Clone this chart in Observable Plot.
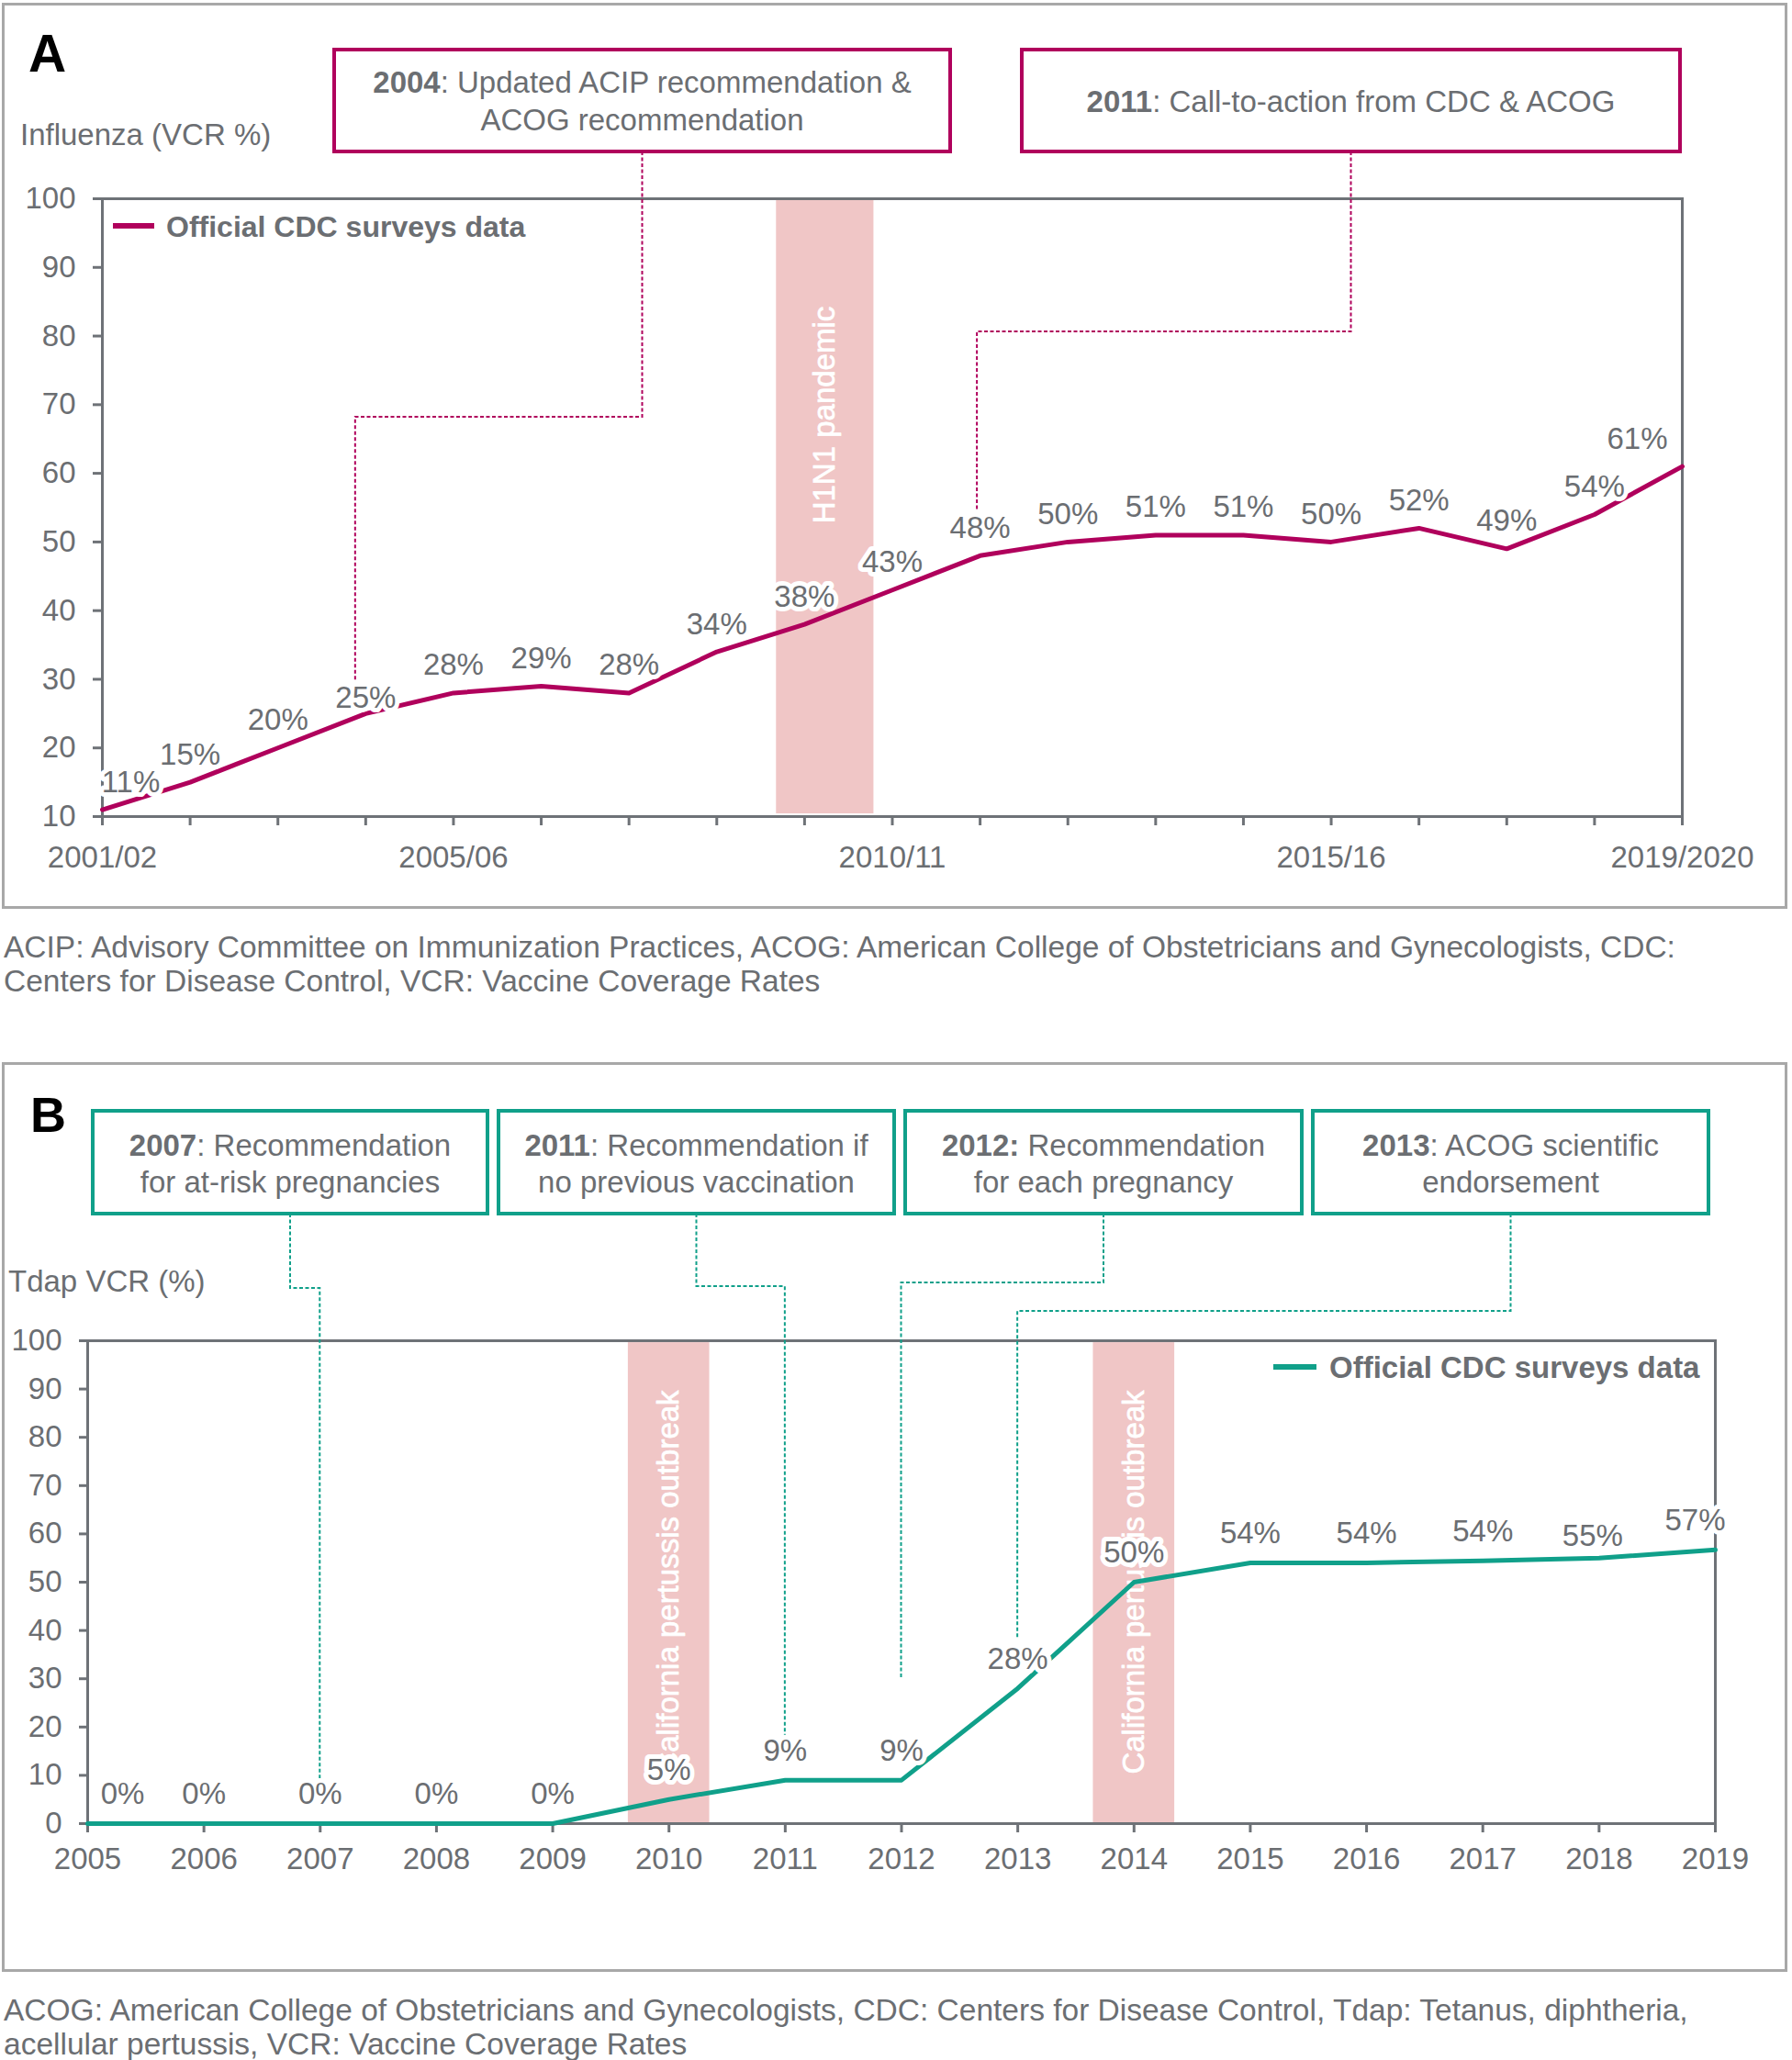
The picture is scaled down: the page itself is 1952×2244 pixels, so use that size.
<!DOCTYPE html>
<html>
<head>
<meta charset="utf-8">
<script src="https://cdn.jsdelivr.net/npm/d3@7"></script>
<script src="https://cdn.jsdelivr.net/npm/@observablehq/plot@0.6"></script>
<style>
  body { margin: 0; background: #fff; }
  #page { position: relative; width: 1952px; height: 2244px; background: #fff;
          font-family: "Liberation Sans", Arial, Helvetica, sans-serif; }
  #page svg { position: absolute; left: 0; }
  .cap { position: absolute; left: 4px; font-size: 33.5px; line-height: 37px; color: #6b6e72; white-space: nowrap; }
</style>
</head>
<body>
<div id="page"></div>
<script>
// ---------------- DATA ----------------
const fluSeasons = ["2001/02","2002/03","2003/04","2004/05","2005/06","2006/07","2007/08","2008/09","2009/10",
  "2010/11","2011/12","2012/13","2013/14","2014/15","2015/16","2016/17","2017/18","2018/19","2019/2020"];
const fluVCR = [11, 15, 20, 25, 28, 29, 28, 34, 38, 43, 48, 50, 51, 51, 50, 52, 49, 54, 61];
const fluTickLabels = ["2001/02", "2005/06", "2010/11", "2015/16", "2019/2020"];
const fluYTicks = [10, 20, 30, 40, 50, 60, 70, 80, 90, 100];
// H1N1 pandemic period, in season-index units
const h1n1Period = {start: 7.68, end: 8.79, label: "H1N1 pandemic"};

const tdapYears = [2005, 2006, 2007, 2008, 2009, 2010, 2011, 2012, 2013, 2014, 2015, 2016, 2017, 2018, 2019];
const tdapVCR = [0, 0, 0, 0, 0, 5, 9, 9, 28, 50, 54, 54, 54.4, 55, 56.7];
const tdapYTicks = [0, 10, 20, 30, 40, 50, 60, 70, 80, 90, 100];
// California pertussis outbreaks (in years)
const outbreaks = [
  {start: 2009.65, end: 2010.35, label: "California pertussis outbreak"},
  {start: 2013.65, end: 2014.35, label: "California pertussis outbreak"}
];

const fluNotes = [
  {bold: "2004", lines: [": Updated ACIP recommendation &", "ACOG recommendation"], target: "2004/05"},
  {bold: "2011", lines: [": Call-to-action from CDC & ACOG"], target: "2011/12"}
];
const tdapNotes = [
  {bold: "2007", lines: [": Recommendation", "for at-risk pregnancies"], target: 2007},
  {bold: "2011", lines: [": Recommendation if", "no previous vaccination"], target: 2011},
  {bold: "2012:", lines: [" Recommendation", "for each pregnancy"], target: 2012},
  {bold: "2013", lines: [": ACOG scientific", "endorsement"], target: 2013}
];

const legendText = "Official CDC surveys data";
const captionA = ["ACIP: Advisory Committee on Immunization Practices, ACOG: American College of Obstetricians and Gynecologists, CDC:",
  "Centers for Disease Control, VCR: Vaccine Coverage Rates"];
const captionB = ["ACOG: American College of Obstetricians and Gynecologists, CDC: Centers for Disease Control, Tdap: Tetanus, diphtheria,",
  "acellular pertussis, VCR: Vaccine Coverage Rates"];

// ---------------- STYLE ----------------
const FONT = '"Liberation Sans", Arial, Helvetica, sans-serif';
const TEXT = "#6b6e72", AXIS = "#6e7277", FRAME = "#a8a8a8", PINK = "#f0c6c6";
const MAGENTA = "#b0005c", TEAL = "#10a08a";

const page = document.getElementById("page");

function pctLabels(data, xKey, opts) {
  const n = data.length;
  const base = {x: xKey, y: "v", text: d => Math.round(d.v) + "%", fill: TEXT,
    stroke: "white", strokeWidth: 10, strokeLinejoin: "round", paintOrder: "stroke"};
  return [
    Plot.text(data, {...base, filter: (d, i) => i === 0, dx: opts.firstDx, dy: opts.dy}),
    Plot.text(data, {...base, filter: (d, i) => i > 0 && i < n - 1 && !(opts.special || {})[i], dy: opts.dy}),
    ...Object.entries(opts.special || {}).map(([k, s]) =>
      Plot.text(data, {...base, filter: (d, i) => i === +k, dx: s.dx || 0, dy: s.dy})),
    Plot.text(data, {...base, filter: (d, i) => i === n - 1, dx: opts.lastDx, dy: opts.dy})
  ];
}

function decorate(plot, cfg) {
  const svg = d3.select(plot);
  const x = plot.scale("x"), y = plot.scale("y");
  const g = svg.append("g").attr("text-anchor", "start").attr("font-family", FONT);
  // outer panel frame
  g.append("rect").attr("x", cfg.frame[0]).attr("y", cfg.frame[1])
    .attr("width", cfg.frame[2]).attr("height", cfg.frame[3])
    .attr("fill", "none").attr("stroke", FRAME).attr("stroke-width", 3);
  // panel letter
  g.append("text").attr("x", cfg.letterPos[0]).attr("y", cfg.letterPos[1])
    .attr("font-weight", "bold").attr("font-size", cfg.letterSize)
    .attr("fill", "#000").text(cfg.letter);
  // y title
  g.append("text").attr("x", cfg.yTitlePos[0]).attr("y", cfg.yTitlePos[1])
    .attr("font-size", 33).attr("fill", TEXT).text(cfg.yTitle);
  // legend
  const lg = cfg.legend;
  g.append("line").attr("x1", lg.x1).attr("x2", lg.x2).attr("y1", lg.y).attr("y2", lg.y)
    .attr("stroke", cfg.color).attr("stroke-width", 6);
  g.append("text").attr("x", lg.tx).attr("y", lg.y + 12)
    .attr("font-weight", "bold").attr("font-size", lg.size).attr("fill", TEXT).text(legendText);
  // annotation boxes + connectors
  cfg.notes.forEach((note, k) => {
    const L = cfg.layout[k];
    const cx = L.x + L.w / 2;
    const tx = x.apply(cfg.targetIndex(note.target)) + (L.dx || 0);
    const ty = y.apply(L.endValue);
    g.append("path")
      .attr("d", `M${cx},${L.y + L.h}V${L.elbowY}H${tx}V${ty}`)
      .attr("fill", "none").attr("stroke", cfg.color).attr("stroke-width", 2)
      .attr("stroke-dasharray", "4,2.5");
    g.append("rect").attr("x", L.x).attr("y", L.y).attr("width", L.w).attr("height", L.h)
      .attr("fill", "white").attr("stroke", cfg.color).attr("stroke-width", 4);
    note.lines.forEach((line, j) => {
      const t = g.append("text").attr("x", cx).attr("y", L.lineYs[j])
        .attr("text-anchor", "middle").attr("font-size", 33).attr("fill", TEXT);
      if (j === 0) t.append("tspan").attr("font-weight", "bold").text(note.bold);
      t.append("tspan").text(line);
    });
  });
}

const bandText = {fill: "white", rotate: -90, stroke: "white", strokeWidth: 0.7};

// ---------------- PANEL A ----------------
const fluData = fluSeasons.map((s, i) => ({i, season: s, v: fluVCR[i]}));
const plotA = Plot.plot({
  width: 1952, height: 995,
  marginLeft: 111, marginRight: 120, marginTop: 216, marginBottom: 106,
  style: {fontFamily: FONT, fontSize: "33px", color: TEXT, background: "white", overflow: "visible"},
  x: {type: "linear", domain: [0, fluSeasons.length - 1]},
  y: {domain: [10, 100]},
  marks: [
    Plot.rect([h1n1Period], {x1: "start", x2: "end", y1: 10.4, y2: 100, fill: PINK}),
    Plot.text([h1n1Period], {x: d => (d.start + d.end) / 2, y: 68.5, text: "label", ...bandText}),
    Plot.frame({stroke: AXIS, strokeWidth: 3}),
    Plot.axisY({ticks: fluYTicks, tickSize: 10, tickPadding: 19, stroke: AXIS, strokeWidth: 3, fill: TEXT, label: null}),
    Plot.axisX({ticks: fluData.map(d => d.i), tickFormat: i => fluTickLabels.includes(fluSeasons[i]) ? fluSeasons[i] : "",
      tickSize: 10, tickPadding: 22, stroke: AXIS, strokeWidth: 3, fill: TEXT, label: null}),
    Plot.line(fluData, {x: "i", y: "v", stroke: MAGENTA, strokeWidth: 5}),
    ...pctLabels(fluData, "i", {dy: -30, firstDx: 31, lastDx: -49, special: {3: {dy: -17}}})
  ]
});
plotA.style.top = "0px";
page.appendChild(plotA);
decorate(plotA, {
  frame: [3.5, 4.5, 1942, 984], letter: "A", letterPos: [31, 78], letterSize: 57,
  yTitle: "Influenza (VCR %)", yTitlePos: [22, 158], color: MAGENTA,
  legend: {x1: 123, x2: 168, y: 246, tx: 181, size: 32},
  notes: fluNotes, targetIndex: s => fluSeasons.indexOf(s),
  layout: [
    {x: 364, y: 54, w: 671, h: 111, lineYs: [101, 142], elbowY: 454, endValue: 29.7, dx: -11},
    {x: 1113, y: 54, w: 717, h: 111, lineYs: [122], elbowY: 361, endValue: 54.7, dx: -3}
  ]
});

// captions
function caption(lines, top) {
  const d = document.createElement("div");
  d.className = "cap"; d.style.top = top + "px";
  d.innerHTML = lines.join("<br>");
  page.appendChild(d);
}
caption(captionA, 1013);

// ---------------- PANEL B ----------------
const tdapData = tdapYears.map((yr, i) => ({yr, v: tdapVCR[i]}));
const plotB = Plot.plot({
  width: 1952, height: 1010,
  marginLeft: 95, marginRight: 84, marginTop: 310, marginBottom: 174,
  style: {fontFamily: FONT, fontSize: "33px", color: TEXT, background: "white", overflow: "visible"},
  x: {type: "linear", domain: [tdapYears[0], tdapYears[tdapYears.length - 1]]},
  y: {domain: [0, 100]},
  marks: [
    Plot.rect(outbreaks, {x1: "start", x2: "end", y1: 0, y2: 99.6, fill: PINK}),
    Plot.text(outbreaks, {x: d => (d.start + d.end) / 2, y: 50, text: "label", ...bandText}),
    Plot.frame({stroke: AXIS, strokeWidth: 3}),
    Plot.axisY({ticks: tdapYTicks, tickSize: 9, tickPadding: 19, stroke: AXIS, strokeWidth: 3, fill: TEXT, label: null}),
    Plot.axisX({ticks: tdapYears, tickFormat: d => String(d), tickSize: 10, tickPadding: 16,
      stroke: AXIS, strokeWidth: 3, fill: TEXT, label: null}),
    Plot.line(tdapData, {x: "yr", y: "v", stroke: TEAL, strokeWidth: 5}),
    ...pctLabels(tdapData, "yr", {dy: -32, firstDx: 38, lastDx: -22, special: {13: {dy: -24, dx: -7}}})
  ]
});
plotB.style.top = "1150px";
page.appendChild(plotB);
decorate(plotB, {
  frame: [3.5, 8.5, 1942, 988], letter: "B", letterPos: [33, 83], letterSize: 54,
  yTitle: "Tdap VCR (%)", yTitlePos: [9, 257], color: TEAL,
  legend: {x1: 1387, x2: 1434, y: 339, tx: 1448, size: 33},
  notes: tdapNotes, targetIndex: yr => yr,
  layout: [
    {x: 101, y: 60, w: 430, h: 112, lineYs: [109, 149], elbowY: 253, endValue: 9.3},
    {x: 543, y: 60, w: 431, h: 112, lineYs: [109, 149], elbowY: 251, endValue: 18.3},
    {x: 986, y: 60, w: 432, h: 112, lineYs: [109, 149], elbowY: 247, endValue: 30},
    {x: 1430, y: 60, w: 431, h: 112, lineYs: [109, 149], elbowY: 278, endValue: 38.5}
  ]
});
caption(captionB, 2171);
</script>
</body>
</html>
